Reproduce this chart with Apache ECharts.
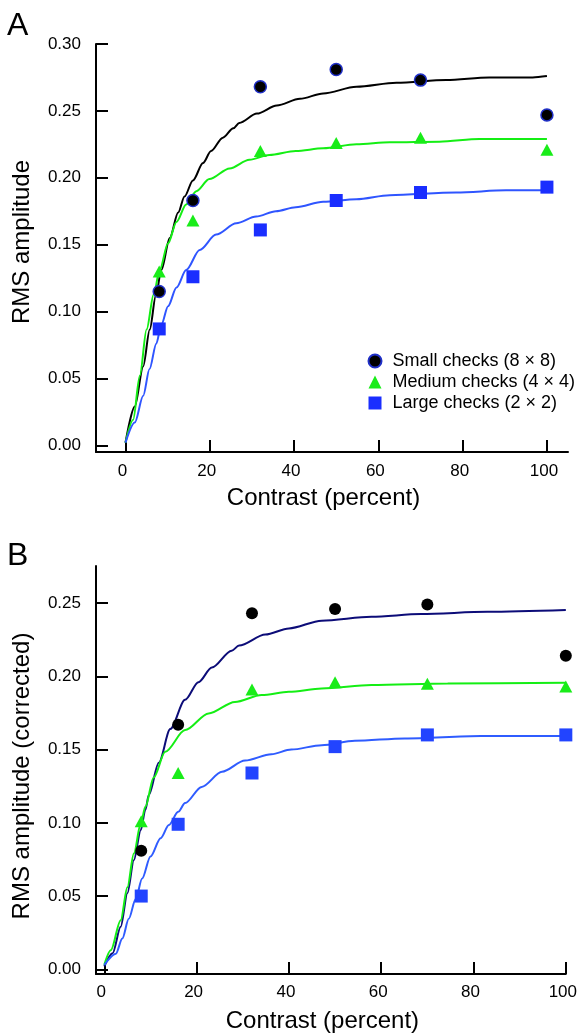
<!DOCTYPE html>
<html>
<head>
<meta charset="utf-8">
<title>RMS amplitude vs contrast</title>
<script src="https://cdn.jsdelivr.net/npm/echarts@6.0.0/dist/echarts.min.js"></script>
<style>
	html, body { margin: 0; padding: 0; background: #fff; }
	#chart { width: 580px; height: 1036px; }
</style>
</head>
<body>
<div id="chart"></div>
<script>
// measured points, contrast in percent
var contrast = [8, 16, 32, 50, 70, 100]

var smallA = [0.115, 0.183, 0.268, 0.281, 0.273, 0.247]
var mediumA = [0.130, 0.168, 0.220, 0.226, 0.230, 0.221]
var largeA = [0.087, 0.126, 0.161, 0.183, 0.189, 0.193]

var smallB = [0.081, 0.167, 0.243, 0.246, 0.249, 0.214]
var mediumB = [0.101, 0.134, 0.191, 0.196, 0.195, 0.193]
var largeB = [0.050, 0.099, 0.134, 0.152, 0.160, 0.160]

// fitted curves as [contrast, amplitude]
var fitSmallA = [[0, 0.002], [2.2, 0.029], [4.2, 0.059], [5.75, 0.0865], [7.2, 0.112], [8.5, 0.131], [10.5, 0.155],
	[12.5, 0.174], [14, 0.186], [16, 0.198], [18.4, 0.211], [20.3, 0.22], [23.1, 0.23], [25.6, 0.237], [27, 0.241],
	[31.2, 0.248], [35.9, 0.254], [41.4, 0.259], [46.9, 0.263], [54.8, 0.268], [64.3, 0.271], [76.1, 0.273],
	[86.3, 0.275], [96.6, 0.275], [100, 0.276]]
var fitMediumA = [[0, 0.002], [1.8, 0.019], [3.4, 0.052], [5, 0.0865], [6.7, 0.113], [8.1, 0.131], [10.1, 0.151],
	[12.1, 0.167], [14.4, 0.18], [16.8, 0.19], [19.9, 0.199], [24.7, 0.207], [29.4, 0.2135], [34.1, 0.217],
	[40.4, 0.22], [46.9, 0.222], [54.8, 0.225], [62.7, 0.2265], [74.5, 0.227], [84, 0.229], [100, 0.229]]
var fitLargeA = [[0, 0.002], [2.2, 0.017], [4.2, 0.037], [5.7, 0.057], [7.3, 0.076], [8.5, 0.09], [10.1, 0.104],
	[12.1, 0.118], [14.4, 0.131], [17.6, 0.146], [21.5, 0.1575], [26.3, 0.166], [31, 0.171], [35.7, 0.175],
	[40.4, 0.178], [46.9, 0.182], [54.8, 0.184], [62.7, 0.187], [78.5, 0.189], [90.3, 0.1906], [100, 0.1906]]

var fitSmallB = [[0, 0.002], [1.8, 0.011], [3.55, 0.029], [5, 0.052], [6.4, 0.0745], [7.9, 0.095], [8.9, 0.109],
	[9.65, 0.119], [11.8, 0.141], [14.3, 0.164], [17.5, 0.184], [20.4, 0.196], [23.3, 0.206], [27.6, 0.2175],
	[29.2, 0.221], [34.9, 0.2285], [40, 0.2327], [47.1, 0.238], [57.9, 0.2406], [68.6, 0.2425], [83, 0.244],
	[100, 0.2452]]
var fitMediumB = [[0, 0.003], [1.4, 0.013], [3.55, 0.0335], [5, 0.056], [6.4, 0.079], [7.9, 0.0995], [8.9, 0.111],
	[10.7, 0.131], [13.2, 0.1485], [17.5, 0.1633], [22.6, 0.1747], [28.3, 0.1825], [34.1, 0.1872], [40, 0.1894],
	[47.1, 0.1917], [57.9, 0.194], [74.4, 0.1951], [100, 0.1956]]
var fitLargeB = [[0, 0.003], [2.5, 0.0107], [3.9, 0.021], [5.3, 0.0345], [6.8, 0.048], [8.2, 0.062], [10, 0.077],
	[12.2, 0.0895], [14, 0.0985], [16, 0.1075], [17.5, 0.1135], [21.1, 0.1245], [25.5, 0.1348], [30.5, 0.1425],
	[36.2, 0.1468], [40.5, 0.15], [47.1, 0.153], [54.3, 0.156], [65.1, 0.1576], [81.6, 0.1592], [100, 0.1592]]

var xTicks = [0, 20, 40, 60, 80, 100]
var yTicksA = [0, 0.05, 0.10, 0.15, 0.20, 0.25, 0.30]
var yTicksB = [0, 0.05, 0.10, 0.15, 0.20, 0.25]

var legendNames = ['Small checks (8 \u00d7 8)', 'Medium checks (4 \u00d7 4)', 'Large checks (2 \u00d7 2)']

var FONT = '"Liberation Sans", Arial, Helvetica, sans-serif'

function pairs(ys) {
	return contrast.map(function (c, i) { return [c, ys[i]] })
}

function xAxis(gridIndex, min, max, labelMargin, nameGap) {
	return {
		type: 'value', gridIndex: gridIndex, min: min, max: max,
		name: 'Contrast (percent)', nameLocation: 'middle', nameGap: nameGap,
		nameTextStyle: { fontSize: 24, color: '#000', fontFamily: FONT, padding: [0, 17, 0, 0] },
		axisLine: { onZero: false, lineStyle: { color: '#000', width: 2 } },
		axisTick: { inside: true, length: 12, customValues: xTicks, lineStyle: { color: '#000', width: 2 } },
		axisLabel: { customValues: xTicks, margin: labelMargin, fontSize: 17, color: '#000', fontFamily: FONT, padding: [0, 6, 0, 0] },
		splitLine: { show: false }
	}
}

function yAxis(gridIndex, min, max, ticks, name, namePad) {
	return {
		type: 'value', gridIndex: gridIndex, min: min, max: max,
		name: name, nameLocation: 'middle', nameGap: 62,
		nameTextStyle: { fontSize: 24, color: '#000', fontFamily: FONT, padding: namePad },
		axisLine: { onZero: false, lineStyle: { color: '#000', width: 2 } },
		axisTick: { inside: true, length: 12, customValues: ticks, lineStyle: { color: '#000', width: 2 } },
		axisLabel: {
			customValues: ticks, margin: 15, fontSize: 17, color: '#000', fontFamily: FONT,
			formatter: function (v) { return v.toFixed(2) }
		},
		splitLine: { show: false }
	}
}

function curve(idx, data, color) {
	return {
		type: 'line', xAxisIndex: idx, yAxisIndex: idx, data: data,
		showSymbol: false, smooth: 0.3, smoothMonotone: 'x', silent: true, z: 2,
		lineStyle: { color: color, width: 2 }
	}
}

function points(idx, name, ys, symbol, size, style) {
	style.opacity = 1
	return {
		name: name, type: 'scatter', xAxisIndex: idx, yAxisIndex: idx, data: pairs(ys),
		symbol: symbol, symbolSize: size, symbolKeepAspect: true, z: 3, itemStyle: style
	}
}

var chart = echarts.init(document.getElementById('chart'), null, { renderer: 'canvas' })

chart.setOption({
	backgroundColor: '#fff',
	animation: false,
	textStyle: { fontFamily: FONT },
	title: [
		{ text: 'A', left: 7, top: 10, padding: 0, textStyle: { fontSize: 32, fontWeight: 'normal', color: '#000', fontFamily: FONT } },
		{ text: 'B', left: 7, top: 540, padding: 0, textStyle: { fontSize: 32, fontWeight: 'normal', color: '#000', fontFamily: FONT } }
	],
	legend: {
		data: legendNames,
		orient: 'vertical', left: 362.5, top: 347,
		itemWidth: 13, itemHeight: 13, itemGap: 3,
		selectedMode: false,
		textStyle: { fontSize: 18, color: '#000', fontFamily: FONT, padding: [0, 0, 0, 6] }
	},
	grid: [
		{ left: 96, top: 44, width: 472, height: 408 },
		{ left: 96, top: 566, width: 473, height: 408 }
	],
	xAxis: [
		xAxis(0, -7, 105, 11, 34),
		xAxis(1, -1.8, 100, 10, 35)
	],
	yAxis: [
		yAxis(0, -0.005, 0.30, yTicksA, 'RMS amplitude', [0, 0, 0, 12]),
		yAxis(1, -0.0032, 0.2753, yTicksB, 'RMS amplitude (corrected)', [0, 12, 0, 0])
	],
	series: [
		curve(0, fitSmallA, '#000000'),
		curve(0, fitMediumA, '#14ee14'),
		curve(0, fitLargeA, '#2f55ff'),
		points(0, legendNames[0], smallA, 'circle', 12, { color: '#000', borderColor: '#2030c8', borderWidth: 1.5 }),
		points(0, legendNames[1], mediumA, 'triangle', [13, 12], { color: '#19ec19' }),
		points(0, legendNames[2], largeA, 'rect', 13, { color: '#1a2eff' }),

		curve(1, fitSmallB, '#0c0c78'),
		curve(1, fitMediumB, '#14ee14'),
		curve(1, fitLargeB, '#2f5cff'),
		points(1, 'Small (corrected)', smallB, 'circle', 12, { color: '#000' }),
		points(1, 'Medium (corrected)', mediumB, 'triangle', [13, 12], { color: '#19ec19' }),
		points(1, 'Large (corrected)', largeB, 'rect', 13, { color: '#2244ff' })
	]
})
</script>
</body>
</html>
